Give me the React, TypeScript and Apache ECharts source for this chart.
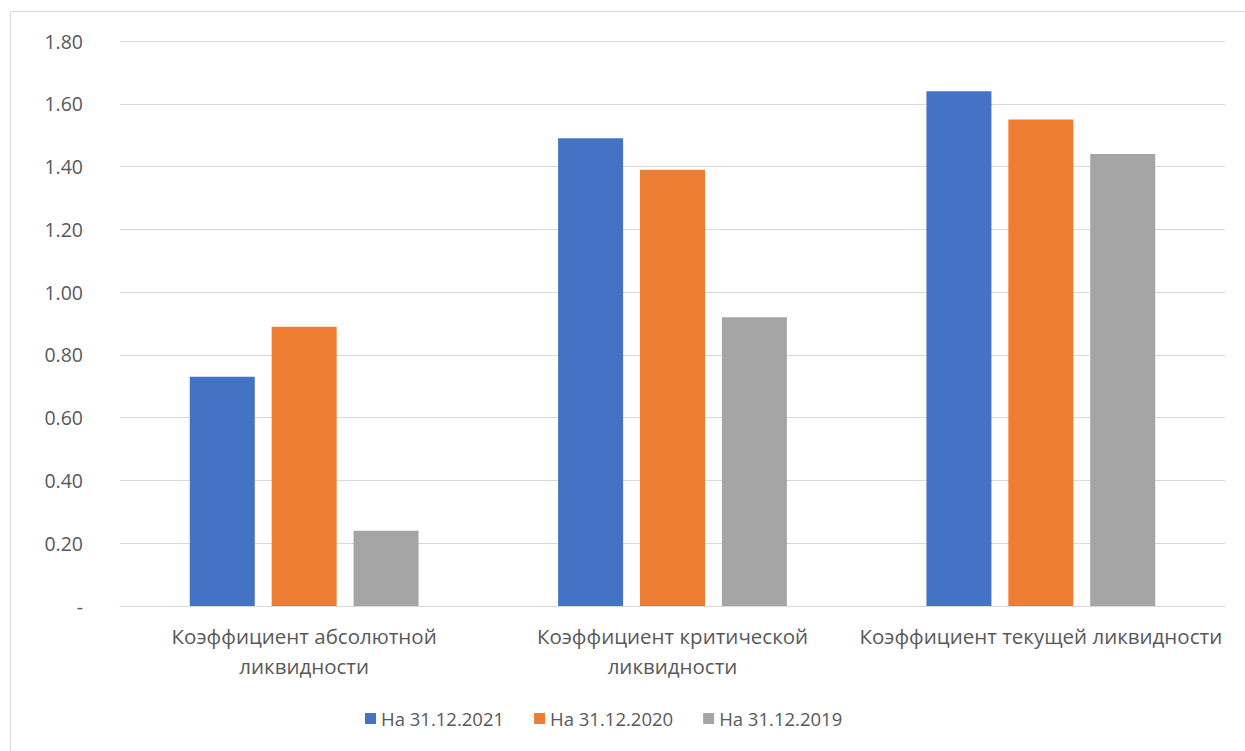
import React, { useEffect, useRef } from "react";
import * as echarts from "echarts";

const categories = [
  "Коэффициент абсолютной\nликвидности",
  "Коэффициент критической\nликвидности",
  "Коэффициент текущей ликвидности",
];
const seriesNames = ["На 31.12.2021", "На 31.12.2020", "На 31.12.2019"];
const values2021 = [0.73, 1.49, 1.64];
const values2020 = [0.89, 1.39, 1.55];
const values2019 = [0.24, 0.92, 1.44];
const colors = ["#4472C4", "#ED7D31", "#A5A5A5"];

export default function App() {
  const ref = useRef<HTMLDivElement>(null);
  useEffect(() => {
    if (!ref.current) return;
    const chart = echarts.init(ref.current, null, { renderer: "svg" });
    const font = "'Open Sans', 'Noto Sans', sans-serif";
    const data = [values2021, values2020, values2019];
    chart.setOption({
      animation: false,
      backgroundColor: "#ffffff",
      textStyle: { fontFamily: font },
      graphic: [
        {
          type: "rect",
          shape: { x: 10.5, y: 11.5, width: 1260, height: 760 },
          style: { fill: "none", stroke: "#D9D9D9", lineWidth: 1 },
          silent: true,
        },
      ],
      grid: { left: 120, right: 20, top: 41, bottom: 145, containLabel: false },
      legend: {
        left: 360,
        top: 704,
        itemWidth: 11,
        itemHeight: 11,
        itemGap: 30,
        icon: "rect",
        textStyle: { color: "#595959", fontSize: 18.5, fontFamily: font },
        data: seriesNames,
      },
      xAxis: {
        type: "category",
        data: categories,
        axisLine: { lineStyle: { color: "#D9D9D9", width: 1 } },
        axisTick: { show: false },
        axisLabel: {
          color: "#595959",
          fontSize: 20.5,
          fontFamily: font,
          margin: 15,
          lineHeight: 30,
          interval: 0,
        },
      },
      yAxis: {
        type: "value",
        min: 0,
        max: 1.8,
        interval: 0.2,
        axisLine: { show: false },
        axisTick: { show: false },
        splitLine: { lineStyle: { color: "#D9D9D9", width: 1 } },
        axisLabel: {
          color: "#595959",
          fontSize: 19.5,
          fontFamily: font,
          margin: 37,
          formatter: (v: number) => (v === 0 ? "-" : v.toFixed(2)),
        },
      },
      series: seriesNames.map((name, i) => ({
        name,
        type: "bar",
        data: data[i],
        barWidth: 65,
        barGap: "26%",
        itemStyle: { color: colors[i] },
      })),
    });
    return () => chart.dispose();
  }, []);
  return (
    <div
      ref={ref}
      style={{ position: "fixed", left: 0, top: 0, width: 1245, height: 751 }}
    />
  );
}
